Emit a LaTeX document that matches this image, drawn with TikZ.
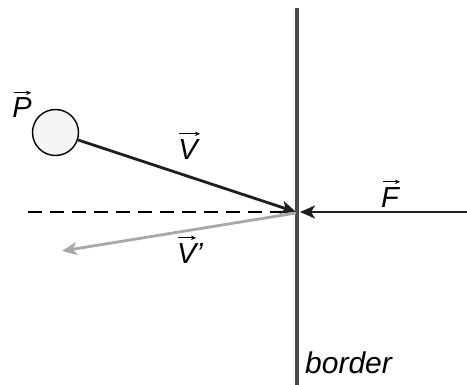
\documentclass[tikz,border=0pt]{standalone}
\usepackage{fontspec}
\setmainfont{Liberation Sans}
\usetikzlibrary{arrows.meta}
\definecolor{bordergray}{HTML}{4A4A44}
\definecolor{refl}{HTML}{A8A8A8}
\definecolor{ink}{HTML}{1E1E1E}
\tikzset{
  lbl/.style={font=\fontsize{29}{32}\selectfont\itshape, inner sep=0pt, anchor=center},
  vecbar/.style={line width=0.9pt, -{Stealth[length=5pt,width=4.5pt]}},
  vecline/.style={line width=2.8pt, ink, -{Stealth[length=15pt,width=13pt,inset=4pt]}},
  reflline/.style={line width=2.8pt, refl, -{Stealth[length=15pt,width=13pt,inset=4pt]}},
}
\begin{document}
\begin{tikzpicture}[x=1pt,y=-1pt]
\useasboundingbox (0,0) rectangle (467,385);
% border
\coordinate (btop) at (297,8);
\coordinate (bbot) at (297,385);
\draw[line width=3.6pt, bordergray] (btop) -- (bbot);
% dashed normal
\coordinate (dl) at (28,212);
\coordinate (hit) at (296,212);
\draw[line width=1.6pt, dash pattern=on 14pt off 8pt] (dl) -- (hit);
% ball
\node[circle, draw=black, line width=1.4pt, fill=black!4, minimum size=46pt, inner sep=0pt] (ball) at (55.5,132.5) {};
% V
\draw[vecline] (ball) -- (hit);
% F
\coordinate (fr) at (467,212);
\coordinate (fhit) at (300,212);
\draw[vecline] (fr) -- (fhit);
% V'
\coordinate (hit2) at (296,213);
\coordinate (vp) at (62,251);
\draw[reflline] (hit2) -- (vp);
% labels
\node[lbl] (lP) at (22,108) {P};
\draw[vecbar] ([xshift=-8pt,yshift=5pt]lP.north) -- ([xshift=9pt,yshift=5pt]lP.north);
\node[lbl] (lV) at (188,150) {V};
\draw[vecbar] ([xshift=-9pt,yshift=6pt]lV.north) -- ([xshift=12pt,yshift=6pt]lV.north);
\node[lbl] (lF) at (390,198) {F};
\draw[vecbar] ([xshift=-7pt,yshift=6pt]lF.north) -- ([xshift=10pt,yshift=6pt]lF.north);
\node[lbl] (lVp) at (190,254) {V’};
\draw[vecbar] ([xshift=-12pt,yshift=6pt]lVp.north) -- ([xshift=6pt,yshift=6pt]lVp.north);
\node[font=\fontsize{30}{34}\selectfont\itshape, inner sep=0pt, anchor=base west] (lb) at (305,374) {border};
\end{tikzpicture}
\end{document}
